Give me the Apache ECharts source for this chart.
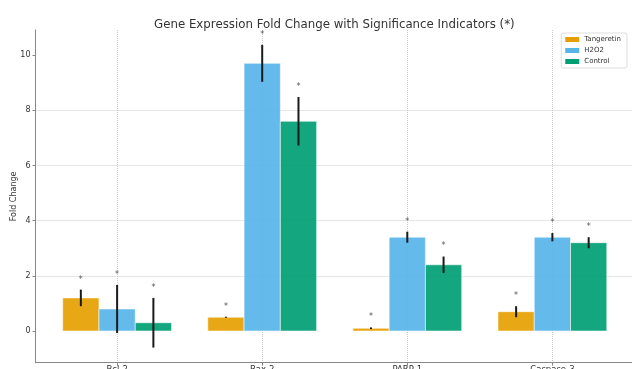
<!DOCTYPE html>
<html><head><meta charset="utf-8">
<script src="https://cdn.jsdelivr.net/npm/echarts@6/dist/echarts.min.js"></script>
<style>html,body{margin:0;padding:0;background:#fff}#c{width:632px;height:369px}</style>
</head><body><div id="c"></div>
<script>
const categories = ['Bcl-2', 'Bax-2', 'PARP-1', 'Caspase-3'];
const seriesNames = ['Tangeretin', 'H2O2', 'Control'];
const tangeretin = [1.2, 0.5, 0.1, 0.7];
const tangeretinErr = [0.3, 0.02, 0.03, 0.2];
const h2o2 = [0.8, 9.7, 3.4, 3.4];
const h2o2Err = [0.87, 0.67, 0.2, 0.15];
const control = [0.3, 7.6, 2.4, 3.2];
const controlErr = [0.9, 0.88, 0.3, 0.2];
const yTicks = [0, 2, 4, 6, 8, 10];
const marker = '*';

const colors = ['#E69F00', '#56B4E9', '#009E73'];
const values = [tangeretin, h2o2, control];
const errs = [tangeretinErr, h2o2Err, controlErr];
const barW = 0.25;
const starGap = 0.44;
const FONT = 'DejaVu Sans';

const chart = echarts.init(document.getElementById('c'), null, {renderer: 'canvas'});

function makeSeries(k) {
  const off = (k - 1) * barW;
  return {
    name: seriesNames[k],
    type: 'custom',
    itemStyle: {color: colors[k]},
    encode: {x: 0, y: 1},
    data: categories.map((c, i) => [i, values[k][i], errs[k][i]]),
    renderItem: function (params, api) {
      const i = api.value(0), v = api.value(1), e = api.value(2);
      const x = i + off;
      const p1 = api.coord([x - barW / 2, v]);
      const p2 = api.coord([x + barW / 2, 0]);
      const t = api.coord([x, v + e]);
      const b = api.coord([x, v - e]);
      const s = api.coord([x, v + e + starGap]);
      return {
        type: 'group',
        children: [
          {type: 'rect', shape: {x: p1[0], y: Math.min(p1[1], p2[1]), width: p2[0] - p1[0], height: Math.abs(p2[1] - p1[1])},
           style: {fill: colors[k], opacity: 0.92, stroke: 'rgba(255,255,255,0.6)', lineWidth: 1}},
          {type: 'line', shape: {x1: t[0], y1: t[1], x2: b[0], y2: b[1]}, style: {stroke: '#1a1a1a', lineWidth: 2}},
          {type: 'text', x: s[0], y: s[1] + 2, style: {text: marker, fill: '#555', fontSize: 8, fontFamily: FONT, align: 'center', verticalAlign: 'middle'}}
        ]
      };
    }
  };
}

const option = {
  animation: false,
  backgroundColor: '#fff',
  title: {
    text: 'Gene Expression Fold Change with Significance Indicators (*)',
    left: 149, top: 14,
    textStyle: {fontFamily: FONT, fontSize: 11.8, fontWeight: 'normal', color: '#333'}
  },
  legend: {
    orient: 'vertical', right: 5, top: 33,
    data: seriesNames.map(n => ({name: n, icon: 'rect'})),
    itemWidth: 14, itemHeight: 5, itemGap: 4,
    padding: [3, 6, 3, 4],
    borderColor: '#ddd', borderWidth: 1, borderRadius: 2, backgroundColor: '#fff',
    textStyle: {fontFamily: FONT, fontSize: 7, color: '#333'}
  },
  grid: {left: 35.5, right: -2, top: 30, bottom: 6.3, containLabel: false, outerBoundsMode: 'none'},
  xAxis: {
    type: 'value', min: -0.5625, max: 3.5625, minInterval: 1, maxInterval: 1,
    axisLine: {show: true, onZero: false, lineStyle: {color: '#888', width: 1}},
    axisTick: {show: true, length: 3, lineStyle: {color: '#888'}, customValues: [0, 1, 2, 3]},
    axisLabel: {
      margin: 3, fontFamily: FONT, fontSize: 8.5, color: '#333',
      formatter: v => (Number.isInteger(v) && categories[v] !== undefined) ? categories[v] : ''
    },
    splitLine: {show: true, lineStyle: {type: 'dotted', color: '#ccc', width: 1}}
  },
  yAxis: {
    type: 'value', min: -1.148, max: 10.908, minInterval: 2, maxInterval: 2, splitNumber: 6,
    name: 'Fold Change', nameLocation: 'middle', nameGap: 18, nameMoveOverlap: false,
    nameTextStyle: {fontFamily: FONT, fontSize: 8, color: '#333'},
    axisLine: {show: true, onZero: false, lineStyle: {color: '#888', width: 1}},
    axisTick: {show: true, length: 3, lineStyle: {color: '#888'}, customValues: yTicks},
    axisLabel: {
      margin: 5, fontFamily: FONT, fontSize: 8, color: '#333',
      showMinLabel: false, showMaxLabel: false,
      formatter: v => yTicks.includes(v) ? String(v) : ''
    },
    splitLine: {show: true, showMinLine: false, showMaxLine: false, lineStyle: {type: 'dotted', color: '#ccc', width: 1}}
  },
  series: [makeSeries(0), makeSeries(1), makeSeries(2)]
};
chart.setOption(option);
</script>
</body></html>
